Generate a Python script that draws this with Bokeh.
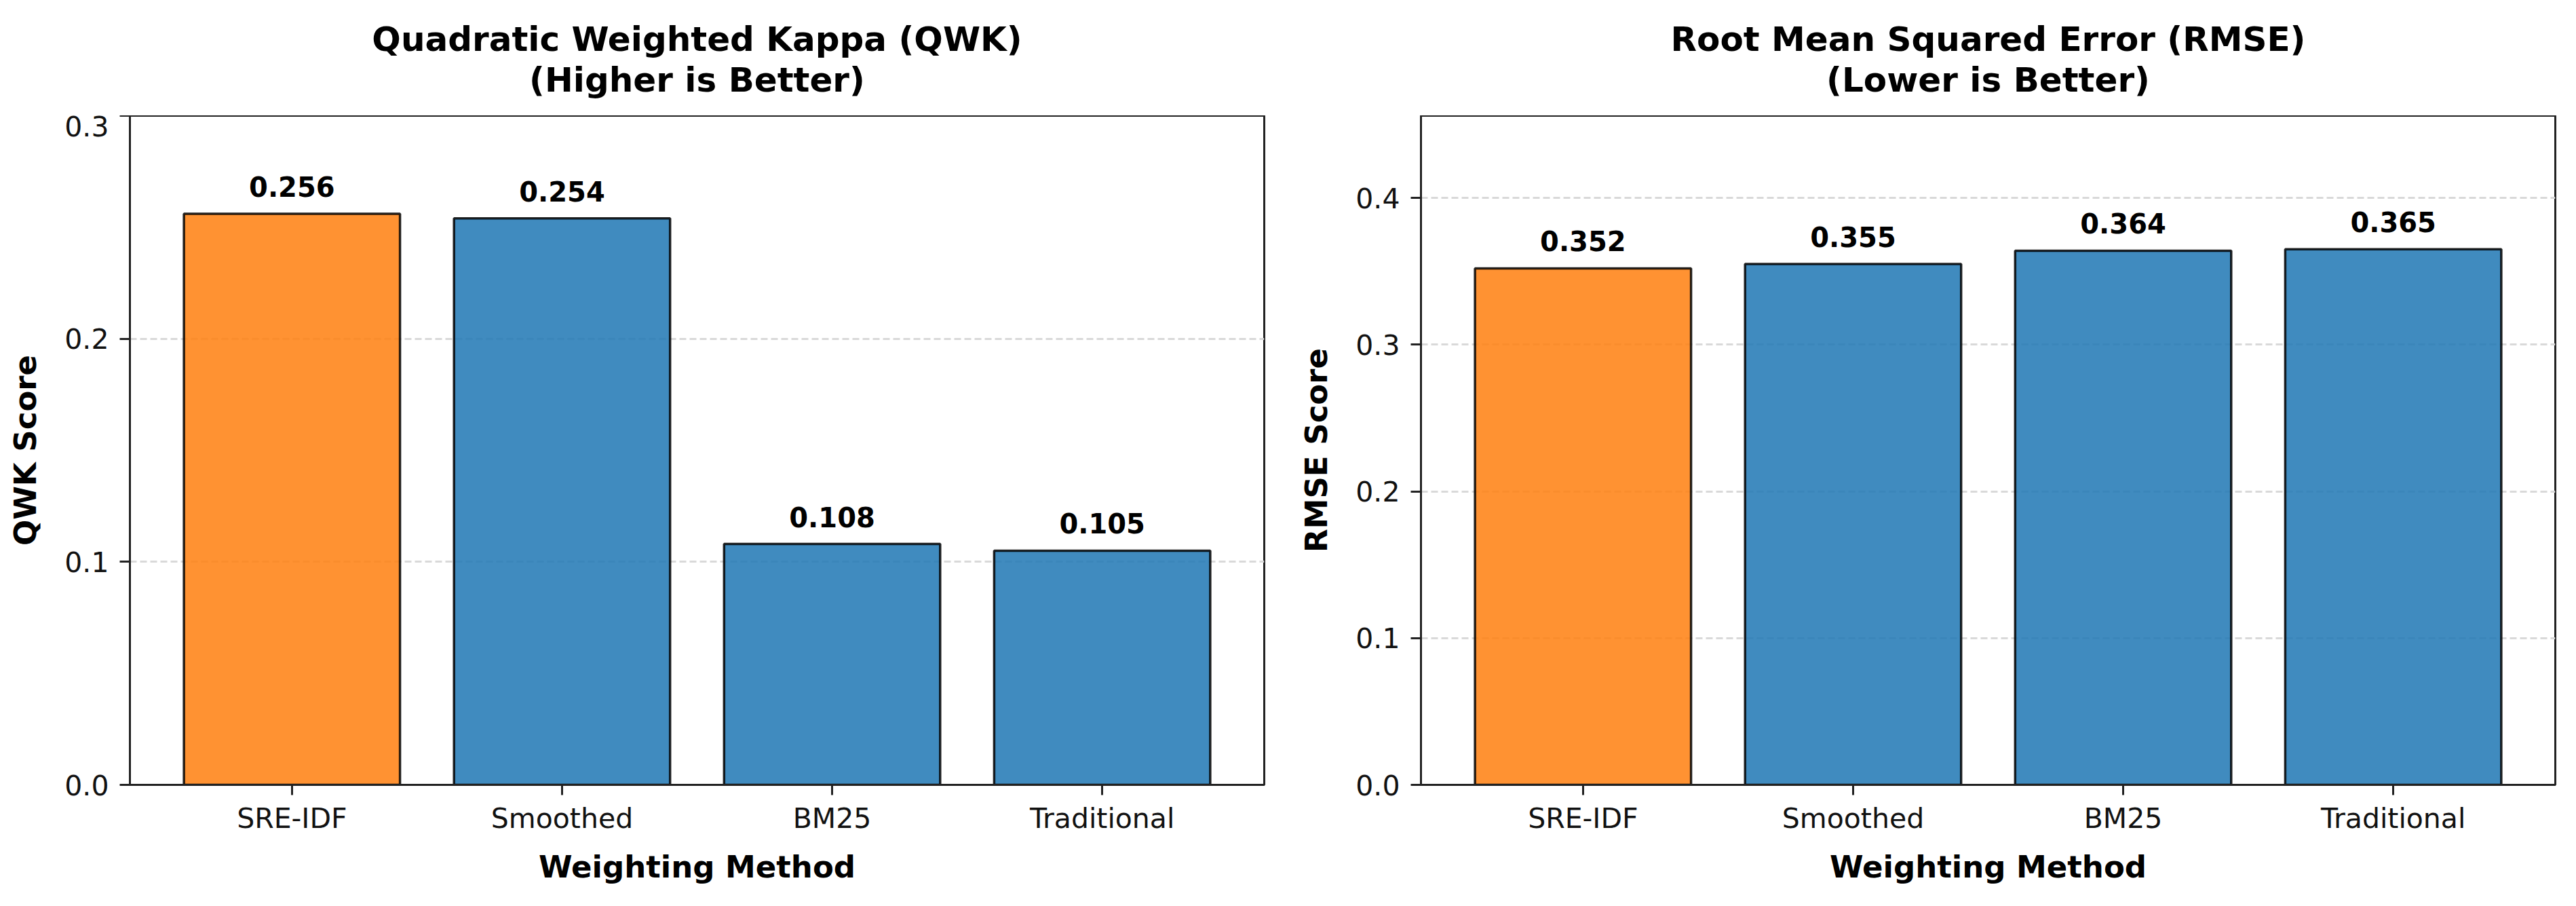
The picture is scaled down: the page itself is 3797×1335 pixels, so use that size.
from bokeh.plotting import figure
from bokeh.layouts import row, column
from bokeh.models import Range1d, FixedTicker, PrintfTickFormatter, ColumnDataSource
from bokeh.core.properties import value
from bokeh.embed import file_html
from bokeh.resources import INLINE

# ---- data ----
methods = ["SRE-IDF", "Smoothed", "BM25", "Traditional"]
qwk_scores = [0.256, 0.254, 0.108, 0.105]
rmse_scores = [0.352, 0.355, 0.364, 0.365]
highlight = "SRE-IDF"
qwk_ticks = [0.0, 0.1, 0.2, 0.3]
rmse_ticks = [0.0, 0.1, 0.2, 0.3, 0.4]
qwk_title = ["Quadratic Weighted Kappa (QWK)", "(Higher is Better)"]
rmse_title = ["Root Mean Squared Error (RMSE)", "(Lower is Better)"]

FONT = "DejaVu Sans"
ORANGE = "#ff7f0e"
BLUE = "#1f77b4"
FW, FH = 1672, 986
TH = 170  # height of the title strip


def make_title(lines, border_left, border_right):
    t = figure(output_backend="svg", toolbar_location=None,
               frame_width=FW, frame_height=TH,
               x_range=Range1d(0, FW), y_range=Range1d(0, TH),
               x_axis_location=None, y_axis_location=None,
               min_border_left=border_left, min_border_right=border_right,
               min_border_top=0, min_border_bottom=0,
               outline_line_color=None,
               background_fill_color="white", border_fill_color="white")
    t.xgrid.grid_line_color = None
    t.ygrid.grid_line_color = None
    cx = FW / 2
    t.text(x=[cx, cx], y=[113, 53], text=lines,
           text_font=value(FONT), text_font_style="bold", text_font_size="50px",
           text_align="center", text_baseline="alphabetic", text_color="black")
    return t


def make_panel(vals, ymax, yticks, ylabel, border_left, border_right):
    p = figure(output_backend="svg", toolbar_location=None,
               frame_width=FW, frame_height=FH,
               x_range=Range1d(-0.6, 3.6), y_range=Range1d(0, ymax),
               min_border_left=border_left, min_border_right=border_right,
               min_border_top=0, min_border_bottom=163,
               background_fill_color="white", border_fill_color="white")
    p.outline_line_color = "#222222"
    p.outline_line_width = 3

    xs = list(range(len(methods)))
    colors = [ORANGE if m == highlight else BLUE for m in methods]
    src = ColumnDataSource(dict(x=xs, top=vals, color=colors,
                                label=["%.3f" % v for v in vals]))
    p.vbar(x="x", top="top", width=0.8, bottom=0, source=src,
           fill_color="color", fill_alpha=0.85,
           line_color="black", line_alpha=0.85, line_width=3.5)
    p.text(x="x", y="top", text="label", source=src,
           text_font=value(FONT), text_font_style="bold", text_font_size="40px",
           text_align="center", text_baseline="alphabetic", y_offset=-40,
           text_color="black")

    # axes
    xa = p.xaxis[0]
    xa.ticker = FixedTicker(ticks=xs)
    xa.major_label_overrides = {i: m for i, m in enumerate(methods)}
    xa.axis_label = "Weighting Method"
    ya = p.yaxis[0]
    ya.ticker = FixedTicker(ticks=yticks)
    ya.formatter = PrintfTickFormatter(format="%.1f")
    ya.axis_label = ylabel
    for ax in (xa, ya):
        ax.axis_line_color = "#222222"
        ax.axis_line_width = 3
        ax.major_tick_line_color = "#222222"
        ax.major_tick_line_width = 3
        ax.major_tick_out = 15
        ax.major_tick_in = 0
        ax.minor_tick_line_color = None
        ax.major_label_text_font = FONT
        ax.major_label_text_font_size = "41px"
        ax.major_label_text_color = "#111111"
        ax.axis_label_text_font = FONT
        ax.axis_label_text_font_size = "45px"
        ax.axis_label_text_font_style = "bold"
        ax.axis_label_text_color = "black"
    xa.major_label_standoff = 10
    xa.axis_label_standoff = 18
    ya.major_label_standoff = 16
    ya.axis_label_standoff = 28

    p.xgrid.grid_line_color = None
    p.ygrid.ticker = FixedTicker(ticks=yticks)
    p.ygrid.grid_line_color = "#d9d9d9"
    p.ygrid.grid_line_width = 3
    p.ygrid.grid_line_dash = "10 5"
    return p


left = column(make_title(qwk_title, 191, 40),
              make_panel(qwk_scores, 0.3, qwk_ticks, "QWK Score", 191, 40))
right = column(make_title(rmse_title, 191, 10),
               make_panel(rmse_scores, 0.456, rmse_ticks, "RMSE Score", 191, 10))

layout = row(left, right)
open("out.html", "w").write(file_html(layout, INLINE))
